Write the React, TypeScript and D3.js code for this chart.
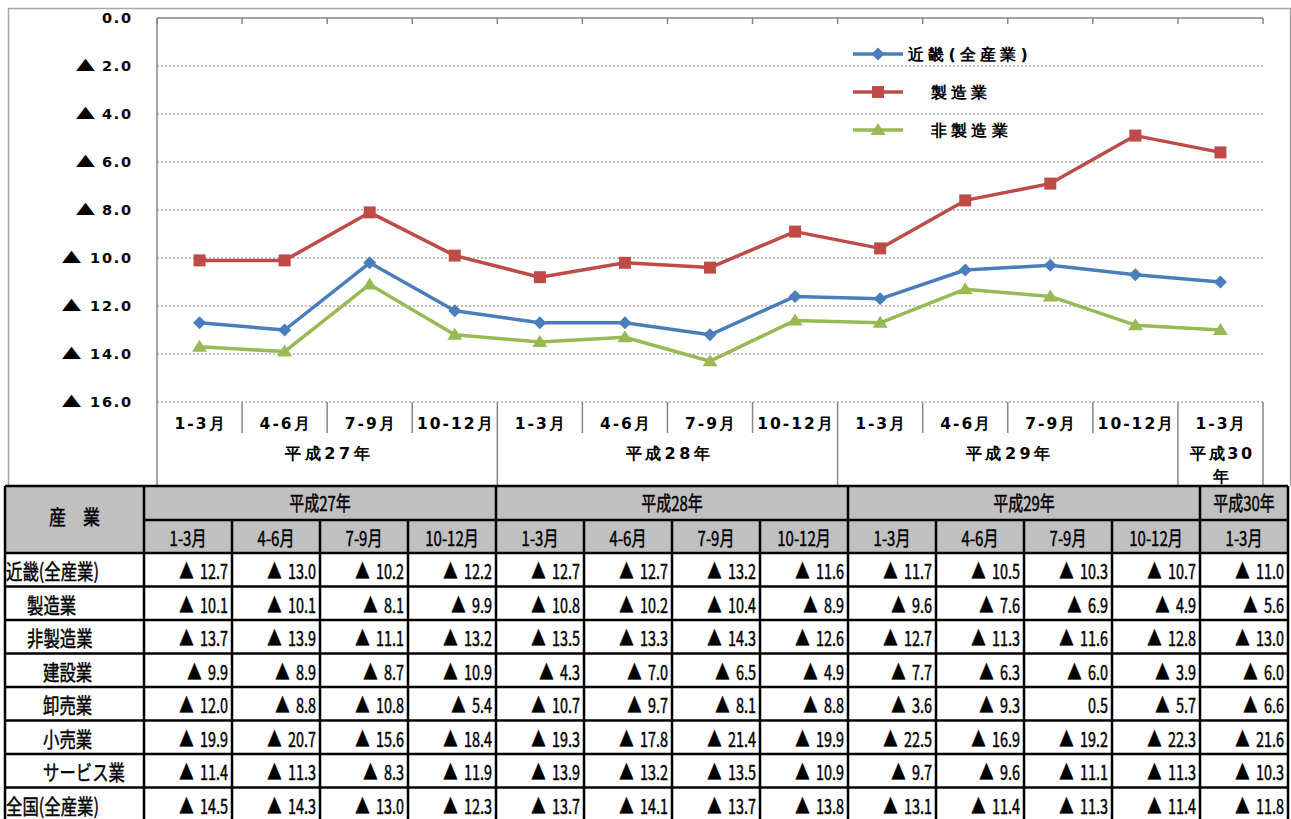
import React from "react";
import * as d3 from "d3";

// ---------- data ----------
const quarters = ["1-3月", "4-6月", "7-9月", "10-12月", "1-3月", "4-6月", "7-9月", "10-12月", "1-3月", "4-6月", "7-9月", "10-12月", "1-3月"];
const yearLabels = ["平成27年", "平成28年", "平成29年", "平成30年"];
const yearSpans = [4, 4, 4, 1];
const yTicks = [0, -2, -4, -6, -8, -10, -12, -14, -16];

const seriesNames = ["近畿(全産業)", "製造業", "非製造業"];
const kinki = [-12.7, -13.0, -10.2, -12.2, -12.7, -12.7, -13.2, -11.6, -11.7, -10.5, -10.3, -10.7, -11.0];
const seizo = [-10.1, -10.1, -8.1, -9.9, -10.8, -10.2, -10.4, -8.9, -9.6, -7.6, -6.9, -4.9, -5.6];
const hiseizo = [-13.7, -13.9, -11.1, -13.2, -13.5, -13.3, -14.3, -12.6, -12.7, -11.3, -11.6, -12.8, -13.0];
const kensetsu = [-9.9, -8.9, -8.7, -10.9, -4.3, -7.0, -6.5, -4.9, -7.7, -6.3, -6.0, -3.9, -6.0];
const oroshi = [-12.0, -8.8, -10.8, -5.4, -10.7, -9.7, -8.1, -8.8, -3.6, -9.3, 0.5, -5.7, -6.6];
const kouri = [-19.9, -20.7, -15.6, -18.4, -19.3, -17.8, -21.4, -19.9, -22.5, -16.9, -19.2, -22.3, -21.6];
const service = [-11.4, -11.3, -8.3, -11.9, -13.9, -13.2, -13.5, -10.9, -9.7, -9.6, -11.1, -11.3, -10.3];
const zenkoku = [-14.5, -14.3, -13.0, -12.3, -13.7, -14.1, -13.7, -13.8, -13.1, -11.4, -11.3, -11.4, -11.8];

const tableHeaderLabel = "産　業";
const tableRowLabels = ["近畿(全産業)", "製造業", "非製造業", "建設業", "卸売業", "小売業", "サービス業", "全国(全産業)"];
const tableRowIndent = [0, 1, 1, 2, 2, 2, 2, 0];
const tableRows = [kinki, seizo, hiseizo, kensetsu, oroshi, kouri, service, zenkoku];

const chartSeries = [kinki, seizo, hiseizo];
const seriesColors = ["#4a7ebb", "#be4b48", "#98b954"];
const markerTypes = ["diamond", "square", "triangle"];

// ---------- layout ----------
const W = 1291, H = 819;
const plotL = 157, plotR = 1263, plotT = 18, plotB = 402;
const axisGray = "#868686";
const chartFont = "'DejaVu Sans', Verdana, sans-serif";
const cjkFont = "'Noto Sans CJK JP', sans-serif";
const tblFont = "'Noto Sans CJK JP', sans-serif";

const tblL = 5, tblC0 = 144, tblColW = 88, tblTop = 486, tblH1 = 34, tblH2 = 33, rowH = 33.5;

const tickNum = (v: number) => Math.abs(v).toFixed(1);

function Marker({ type, cx, cy, color }: { type: string; cx: number; cy: number; color: string }) {
  if (type === "diamond") {
    return <path d={`M${cx},${cy - 6.5}L${cx + 6.5},${cy}L${cx},${cy + 6.5}L${cx - 6.5},${cy}Z`} fill={color} />;
  }
  if (type === "square") {
    return <rect x={cx - 6} y={cy - 6} width={12} height={12} fill={color} />;
  }
  return <path d={`M${cx},${cy - 7}L${cx + 7.5},${cy + 5}L${cx - 7.5},${cy + 5}Z`} fill={color} />;
}

function CondText({ x, y, text, anchor = "start", size = 20, sx = 0.72 }: any) {
  return (
    <text transform={`translate(${x},${y}) scale(${sx},1)`} textAnchor={anchor} fontFamily={tblFont} fontSize={size} fill="#000" stroke="#000" strokeWidth={0.45}>
      {text}
    </text>
  );
}

function CellText({ x, y, v }: { x: number; y: number; v: number }) {
  return (
    <text transform={`translate(${x},${y}) scale(0.72,1)`} textAnchor="end" fontFamily={tblFont} fontSize={20} fill="#000" stroke="#000" strokeWidth={0.45}>
      {v < 0 ? <tspan>▲</tspan> : null}
      <tspan dx={v < 0 ? 9 : 0}>{Math.abs(v).toFixed(1)}</tspan>
    </text>
  );
}

export default function App() {
  const x = d3.scaleBand<number>().domain(d3.range(quarters.length)).range([plotL, plotR]);
  const bw = x.bandwidth();
  const cx = (i: number) => (x(i) as number) + bw / 2;
  const y = d3.scaleLinear().domain([0, -16]).range([plotT, plotB]);
  const line = d3.line<number>().x((_, i) => cx(i)).y((d) => y(d));

  const groupStarts: number[] = [];
  let acc = 0;
  yearSpans.forEach((s) => { groupStarts.push(acc); acc += s; });

  const colX = (i: number) => tblC0 + i * tblColW;
  const dataTop = tblTop + tblH1 + tblH2;

  return (
    <svg width={W} height={H} style={{ position: "absolute", left: 0, top: 0, background: "#fff" }}>
      {/* chart frame */}
      <rect x={8.5} y={8.5} width={1282} height={500} fill="#fff" stroke="#a6a6a6" strokeWidth={1.5} />

      {/* gridlines */}
      {yTicks.filter((t) => t !== 0).map((t) => (
        <line key={t} x1={plotL} x2={plotR} y1={y(t)} y2={y(t)} stroke={axisGray} strokeWidth={1} strokeDasharray="2,2" />
      ))}
      <line x1={plotL} x2={plotR} y1={plotT} y2={plotT} stroke={axisGray} strokeWidth={1.5} />
      {d3.range(quarters.length + 1).map((i) => {
        const xx = i < quarters.length ? (x(i) as number) : plotR;
        return <line key={"tt" + i} x1={xx} x2={xx} y1={plotT} y2={plotT + 6} stroke={axisGray} strokeWidth={1.5} />;
      })}
      <line x1={plotL} x2={plotL} y1={plotT} y2={490} stroke={axisGray} strokeWidth={1.5} />
      {/* y tick labels */}
      {yTicks.map((t) => (
        <g key={"yl" + t}>
          <text x={133} y={y(t)} dy="0.36em" textAnchor="end" fontFamily={chartFont} fontWeight="bold" fontSize={14.5} letterSpacing={1.8} fill="#000">
            {tickNum(t)}
          </text>
          {t !== 0 ? (
            <text transform={`translate(${133 - (Math.abs(t) >= 10 ? 61.5 : 47.5)},${y(t)}) scale(1.25,0.95)`} dy="0.36em" textAnchor="middle" fontFamily={cjkFont} fontSize={16} fill="#000">
              ▲
            </text>
          ) : null}
        </g>
      ))}

      {/* category separators */}
      {d3.range(1, quarters.length).map((i) => {
        const xx = x(i) as number;
        const isYear = groupStarts.includes(i);
        return <line key={"cs" + i} x1={xx} x2={xx} y1={plotB} y2={isYear ? 490 : 433} stroke={axisGray} strokeWidth={1.5} />;
      })}
      <line x1={plotR} x2={plotR} y1={plotB} y2={490} stroke={axisGray} strokeWidth={1.5} />

      {/* category labels */}
      {quarters.map((q, i) => (
        <text key={"q" + i} x={cx(i) + 1} y={429} textAnchor="middle" fontFamily={chartFont} fontWeight="bold" fontSize={15.5} letterSpacing={2} fill="#000">
          {q}
        </text>
      ))}
      {yearLabels.map((lab, g) => {
        const s = groupStarts[g];
        const e = s + yearSpans[g];
        const mid = ((x(s) as number) + (e < quarters.length ? (x(e) as number) : plotR)) / 2;
        if (yearSpans[g] === 1) {
          return (
            <text key={"y" + g} textAnchor="middle" fontFamily={chartFont} fontWeight="bold" fontSize={16} letterSpacing={2.5} fill="#000">
              <tspan x={mid + 2} y={459}>{lab.slice(0, 4)}</tspan>
              <tspan x={mid + 2} y={482}>{lab.slice(4)}</tspan>
            </text>
          );
        }
        return (
          <text key={"y" + g} x={mid + 2} y={459} textAnchor="middle" fontFamily={chartFont} fontWeight="bold" fontSize={16} letterSpacing={3.5} fill="#000">
            {lab}
          </text>
        );
      })}

      {/* series lines */}
      {chartSeries.map((s, k) => (
        <g key={"s" + k}>
          <path d={line(s) as string} fill="none" stroke={seriesColors[k]} strokeWidth={3.5} strokeLinejoin="round" />
          {s.map((v, i) => (
            <Marker key={i} type={markerTypes[k]} cx={cx(i)} cy={y(v)} color={seriesColors[k]} />
          ))}
        </g>
      ))}

      {/* legend */}
      {seriesNames.map((n, k) => {
        const ly = 54 + k * 38;
        return (
          <g key={"lg" + k}>
            <line x1={853} x2={903} y1={ly} y2={ly} stroke={seriesColors[k]} strokeWidth={3.5} />
            <Marker type={markerTypes[k]} cx={878} cy={ly} color={seriesColors[k]} />
            <text x={k === 0 ? 908 : 931} y={ly} dy="0.36em" fontFamily={chartFont} fontWeight="bold" fontSize={16} letterSpacing={4.2} fill="#000">
              {n}
            </text>
          </g>
        );
      })}

      {/* ---------- table ---------- */}
      <rect x={tblL} y={tblTop} width={W - tblL} height={H - tblTop} fill="#fff" />
      <rect x={tblL} y={tblTop} width={colX(quarters.length) - tblL} height={tblH1 + tblH2} fill="#c0c0c0" />
      <CondText x={(tblL + tblC0) / 2} y={tblTop + tblH1 + 5} text={tableHeaderLabel} anchor="middle" size={20} sx={0.85} />
      {yearLabels.map((lab, g) => {
        const s = groupStarts[g];
        const e = s + yearSpans[g];
        return <CondText key={"th" + g} x={(colX(s) + colX(e)) / 2} y={tblTop + 25} text={lab} anchor="middle" sx={0.75} />;
      })}
      {quarters.map((q, i) => (
        <CondText key={"tq" + i} x={colX(i) + tblColW / 2} y={tblTop + tblH1 + 26} text={q} anchor="middle" sx={0.75} />
      ))}
      {tableRows.map((row, r) => {
        const ty = dataTop + r * rowH + 26;
        const ix = tblL + 1 + [0, 21, 37][tableRowIndent[r]];
        return (
          <g key={"tr" + r}>
            <CondText x={ix} y={ty} text={tableRowLabels[r]} size={21} sx={0.78} />
            {row.map((v, i) => (
              <CellText key={i} x={colX(i + 1) - 4} y={ty} v={v} />
            ))}
          </g>
        );
      })}
      <g stroke="#000" strokeWidth={2.5}>
        <line x1={tblL} x2={colX(quarters.length)} y1={tblTop} y2={tblTop} />
        <line x1={tblC0} x2={colX(quarters.length)} y1={tblTop + tblH1} y2={tblTop + tblH1} />
        {d3.range(tableRows.length + 1).map((r) => (
          <line key={"hl" + r} x1={tblL} x2={colX(quarters.length)} y1={dataTop + r * rowH} y2={dataTop + r * rowH} />
        ))}
        <line x1={tblL} x2={tblL} y1={tblTop} y2={H} />
        <line x1={tblC0} x2={tblC0} y1={tblTop} y2={H} />
        {d3.range(1, quarters.length + 1).map((i) => {
          const isGroup = i === quarters.length || groupStarts.includes(i);
          return <line key={"vl" + i} x1={colX(i)} x2={colX(i)} y1={isGroup ? tblTop : tblTop + tblH1} y2={H} />;
        })}
      </g>
    </svg>
  );
}
